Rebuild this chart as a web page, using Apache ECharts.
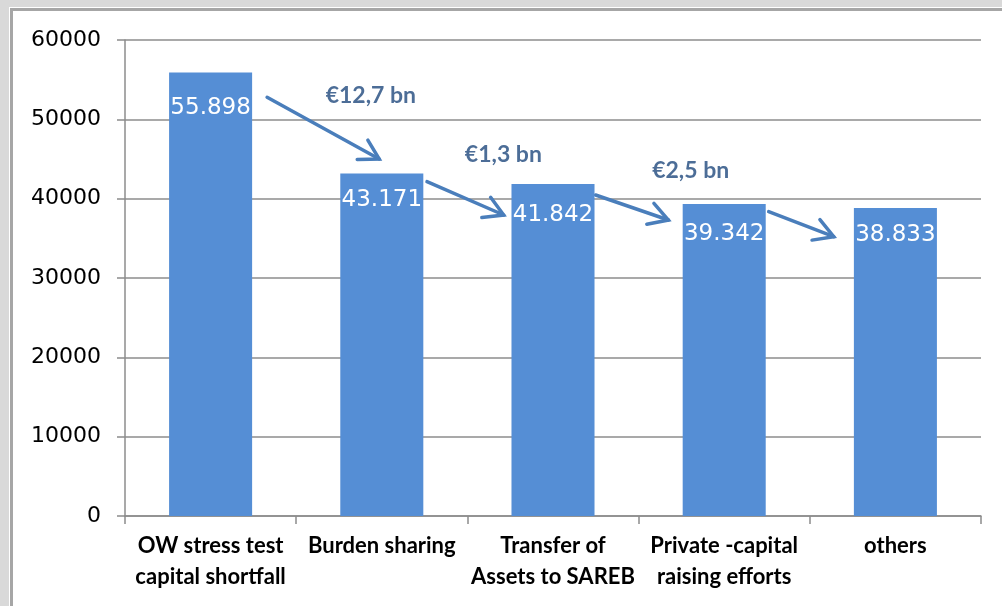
<!DOCTYPE html>
<html>
<head>
<meta charset="utf-8">
<script src="https://cdn.jsdelivr.net/npm/echarts@6/dist/echarts.min.js"></script>
<style>
  html, body { margin: 0; padding: 0; width: 1002px; height: 606px; overflow: hidden; background: #d9d9d9; }
  #panel { position: absolute; left: 9px; top: 7px; width: 1100px; height: 700px; border-left: 1px solid #fff; border-top: 1px solid #fff; }
  #inner { width: 100%; height: 100%; border-left: 3px solid #a6a6a6; border-top: 3px solid #a6a6a6; background: #fff; }
  #chart { position: absolute; left: 0; top: 0; width: 1002px; height: 606px; }
</style>
</head>
<body>
<div id="panel"><div id="inner"></div></div>
<div id="chart"></div>
<script>
// ---- data ----
const categories = [
  'OW stress test\ncapital shortfall',
  'Burden sharing',
  'Transfer of\nAssets to SAREB',
  'Private -capital\nraising efforts',
  'others'
];
const values = [55898, 43171, 41842, 39342, 38833];
const yTicks = { min: 0, max: 60000, interval: 10000 };
// arrows between bars: [fromCategoryPos, fromValue, toCategoryPos, toValue]
const arrows = [
  [0.33, 52780, 0.985, 45000],
  [1.264, 42140, 1.712, 37940],
  [2.249, 40460, 2.674, 37310],
  [3.26, 38360, 3.64, 35210]
];
const annotationTexts = ['€12,7 bn', '€1,3 bn', '€2,5 bn'];
const annotationPos = [[0.936, 53000], [1.71, 45500], [2.804, 43490]];

// ---- styles ----
const labelDy = [35, 27, 31, 30, 27];
const barColor = '#558ED5';
const arrowColor = '#4A7EBB';
const gridColor = '#8c8c8c';

function fmt(v) { return String(v).replace(/\B(?=(\d{3})+(?!\d))/g, '.'); }

const chart = echarts.init(document.getElementById('chart'), null, { renderer: 'canvas' });

const option = {
  backgroundColor: 'transparent',
  animation: false,
  grid: { left: 125, right: 21, top: 40, bottom: 90, containLabel: false },
  xAxis: [
    {
      type: 'category',
      data: categories,
      axisLine: { show: true, onZero: false, lineStyle: { color: gridColor, width: 1.5 } },
      axisTick: { show: true, length: 8, lineStyle: { color: gridColor, width: 1.5 } },
      axisLabel: {
        interval: 0, margin: 14, color: '#000',
        fontFamily: 'Lato', fontWeight: 'bold', fontSize: 22, lineHeight: 31
      },
      splitLine: { show: false }
    },
    { type: 'value', min: -0.5, max: 4.5, show: false }
  ],
  yAxis: {
    type: 'value',
    min: yTicks.min, max: yTicks.max, interval: yTicks.interval,
    axisLine: { show: true, onZero: false, lineStyle: { color: gridColor, width: 1.5 } },
    axisTick: { show: true, length: 8, lineStyle: { color: gridColor, width: 1.5 } },
    axisLabel: { margin: 24, color: '#000', fontFamily: 'DejaVu Sans', fontSize: 22, formatter: v => String(v) },
    splitLine: { show: true, lineStyle: { color: gridColor, width: 1.5 } }
  },
  series: [
    {
      type: 'bar',
      xAxisIndex: 0,
      barWidth: '48.5%',
      itemStyle: { color: barColor },
      data: values.map((v, i) => ({
        value: v,
        label: { distance: labelDy[i] }
      })),
      label: {
        show: true,
        position: 'insideTop',
        verticalAlign: 'middle',
        color: '#fff',
        fontFamily: 'DejaVu Sans',
        fontSize: 23,
        formatter: p => fmt(p.value)
      }
    },
    {
      type: 'custom',
      xAxisIndex: 1,
      clip: false,
      silent: true,
      encode: { x: [0, 2], y: [1, 3] },
      data: arrows,
      renderItem: function (params, api) {
        const p0 = api.coord([api.value(0), api.value(1)]);
        const p1 = api.coord([api.value(2), api.value(3)]);
        const ang = Math.atan2(p1[1] - p0[1], p1[0] - p0[0]);
        const L = 22, a = Math.PI / 6;
        const h1 = [p1[0] - L * Math.cos(ang - a), p1[1] - L * Math.sin(ang - a)];
        const h2 = [p1[0] - L * Math.cos(ang + a), p1[1] - L * Math.sin(ang + a)];
        const st = { stroke: arrowColor, lineWidth: 3.5, fill: null, lineCap: 'round', lineJoin: 'miter' };
        return {
          type: 'group',
          children: [
            { type: 'line', shape: { x1: p0[0], y1: p0[1], x2: p1[0], y2: p1[1] }, style: st },
            { type: 'polyline', shape: { points: [h1, p1, h2] }, style: st }
          ]
        };
      }
    },
    {
      type: 'scatter',
      xAxisIndex: 1,
      symbolSize: 0,
      silent: true,
      data: annotationPos.map((p, i) => ({ value: p, name: annotationTexts[i] })),
      label: {
        show: true,
        position: 'inside',
        formatter: '{b}',
        color: '#1F497D',
        fontFamily: 'Lato',
        fontWeight: 'bold',
        fontSize: 23
      }
    }
  ]
};
chart.setOption(option);
</script>
</body>
</html>
